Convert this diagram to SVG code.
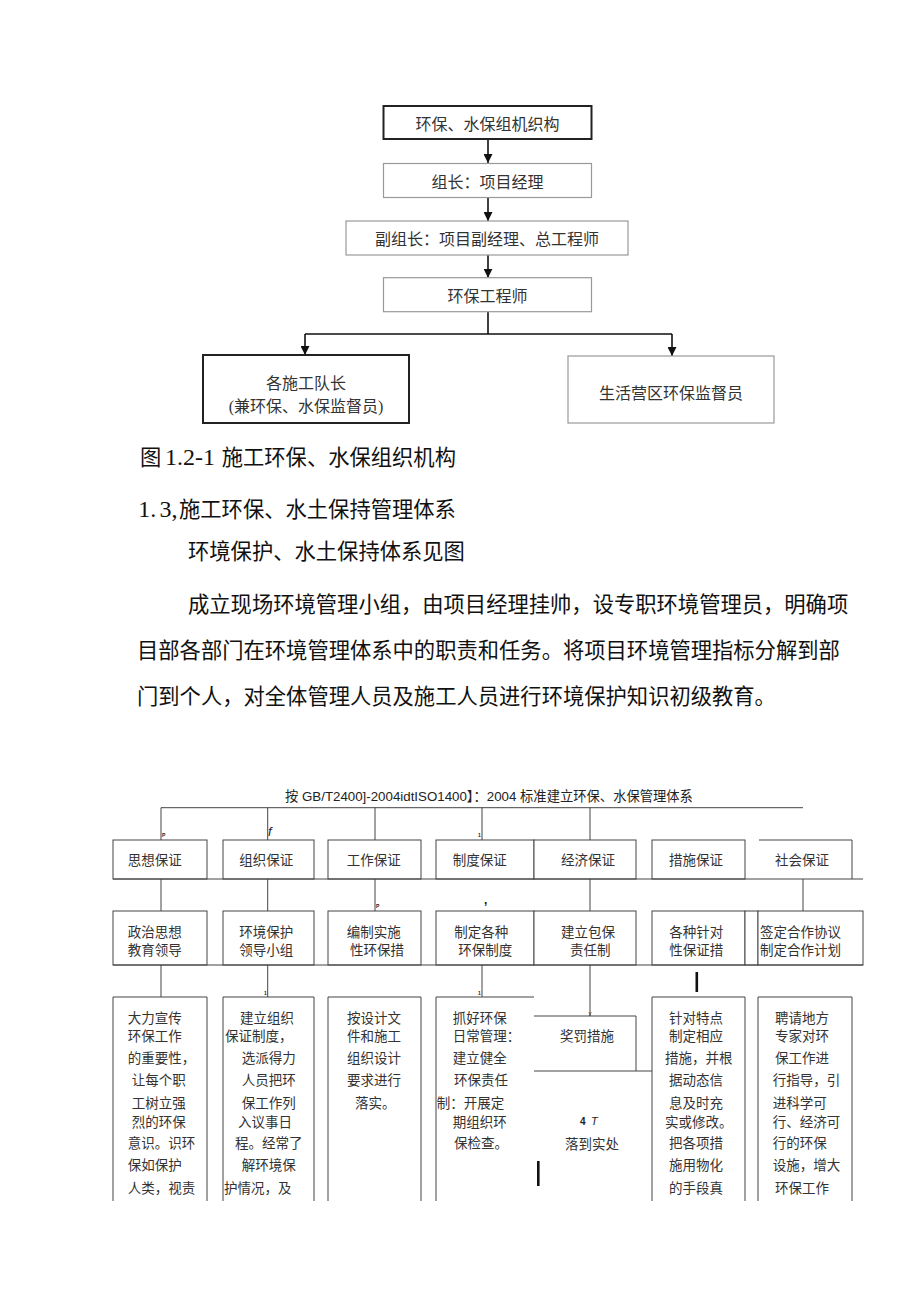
<svg xmlns="http://www.w3.org/2000/svg" width="920" height="1301" viewBox="0 0 920 1301">
<defs>
<marker id="arr" markerWidth="9" markerHeight="9" refX="9" refY="4.5" orient="auto" markerUnits="userSpaceOnUse">
<path d="M0,0 L9,4.5 L0,9 z" fill="#111"/>
</marker>
<style>
.t16{font-family:"Liberation Serif","Noto Sans CJK SC",serif;font-size:16px;fill:#333;text-anchor:middle}
.bx1{fill:#fff;stroke:#222;stroke-width:2}
.bx2{fill:#fff;stroke:#999;stroke-width:1.2}
.con{fill:none;stroke:#111;stroke-width:1.6}
.body{font-family:"Liberation Serif","Noto Sans CJK SC",serif;font-size:21.3px;fill:#111}
.num{font-family:"Liberation Serif",serif;font-size:24px;fill:#111}
.c{font-family:"Liberation Sans","Noto Sans CJK SC",sans-serif;font-size:13.5px;fill:#333}
.hd{font-family:"Liberation Sans","Noto Sans CJK SC",sans-serif;font-size:13.3px;fill:#222}
.cb{fill:#fff;stroke:#444;stroke-width:1}
.cl{fill:none;stroke:#444;stroke-width:1}
.tiny{font-family:"Liberation Sans",sans-serif;font-size:5px;font-weight:bold;fill:#222}
</style>
</defs>
<rect width="920" height="1301" fill="#fff"/>

<!-- Top organisation chart -->
<g id="org-connectors">
<line class="con" x1="488" y1="139" x2="488" y2="163" marker-end="url(#arr)"/>
<line class="con" x1="488" y1="197.5" x2="488" y2="221" marker-end="url(#arr)"/>
<line class="con" x1="488" y1="255" x2="488" y2="277.7" marker-end="url(#arr)"/>
<path class="con" d="M488,311.7 V334 M305,334 H672"/>
<line class="con" x1="305" y1="334" x2="305" y2="355" marker-end="url(#arr)"/>
<line class="con" x1="672" y1="334" x2="672" y2="356" marker-end="url(#arr)"/>
</g>
<g id="org-top">
<rect class="bx1" x="383.5" y="106" width="208" height="33"/>
<text class="t16" x="487.5" y="130">环保、水保组机织构</text>
</g>
<g id="org-leader">
<rect class="bx2" x="383.5" y="163.5" width="208" height="34"/>
<text class="t16" x="487.5" y="188">组长：项目经理</text>
</g>
<g id="org-deputy">
<rect class="bx2" x="346" y="221" width="282" height="34"/>
<text class="t16" x="487" y="245">副组长：项目副经理、总工程师</text>
</g>
<g id="org-engineer">
<rect class="bx2" x="383.5" y="277.7" width="208" height="34"/>
<text class="t16" x="487.5" y="302">环保工程师</text>
</g>
<g id="org-team">
<rect class="bx1" x="203" y="355" width="206" height="68"/>
<text class="t16" x="306" y="389">各施工队长</text>
<text class="t16" x="306" y="412">(兼环保、水保监督员)</text>
</g>
<g id="org-camp">
<rect class="bx2" x="568" y="356" width="206" height="67"/>
<text class="t16" x="671" y="398.7">生活营区环保监督员</text>
</g>

<!-- Body text -->
<g id="body-text">
<text class="body" x="140" y="465">图</text>
<text class="num" x="165" y="465">1.2-1</text>
<text class="body" x="221.7" y="465">施工环保、水保组织机构</text>
<text class="num" x="138.3" y="517">1.</text>
<text class="num" x="159.5" y="517">3,</text>
<text class="body" x="179" y="517">施工环保、水土保持管理体系</text>
<text class="body" x="188" y="559">环境保护、水土保持体系见图</text>
<text class="body" x="188" y="612">成立现场环境管理小组，由项目经理挂帅，设专职环境管理员，明确项</text>
<text class="body" x="137" y="658">目部各部门在环境管理体系中的职责和任务。将项目环境管理指标分解到部</text>
<text class="body" x="137" y="704">门到个人，对全体管理人员及施工人员进行环境保护知识初级教育。</text>
</g>

<!-- Management system chart -->
<g id="sys-title">
<text class="hd" x="285" y="801">按 GB/T2400]-2004idtISO1400】：2004 标准建立环保、水保管理体系</text>
</g>

<g id="sys-connectors">
<path class="cl" d="M161,807.7 H803"/>
<path class="cl" d="M161,807.7 V840 M267.7,807.7 V840 M375,807.7 V840 M482,807.7 V840 M590,807.7 V840"/>
<path class="cl" d="M161,879 V911 M267.7,879 V911 M375,879 V911 M590,879 V911 M803,879 V911"/>
<path class="cl" d="M161,965 V997 M267.7,965 V997 M482,965 V997 M590,965 V1016"/>
<rect x="695.5" y="972" width="2.6" height="20" fill="#111"/>
<rect x="537" y="1161" width="2.6" height="25" fill="#111"/>
<text class="tiny" x="162" y="837">P</text>
<text x="268" y="836" font-family="Liberation Sans,sans-serif" font-size="13" font-style="italic" fill="#222">f</text>
<text class="tiny" x="478" y="837">1</text>
<text x="484" y="904" font-family="Liberation Sans,sans-serif" font-size="12" font-weight="bold" fill="#222">,</text>
<text class="tiny" x="376" y="908">P</text>
<text class="tiny" x="264" y="995">1</text>
<text class="tiny" x="478" y="995">1</text>
<text x="588.5" y="1015" font-family="Liberation Sans,sans-serif" font-size="6" fill="#222">y</text>
</g>

<!-- Row 1 -->
<g id="r1-ideology"><rect class="cb" x="113" y="840" width="94" height="39"/><text class="c" x="127.7" y="865">思想保证</text></g>
<g id="r1-organization"><rect class="cb" x="223" y="840" width="91" height="39"/><text class="c" x="239.3" y="865">组织保证</text></g>
<g id="r1-work"><rect class="cb" x="328" y="840" width="93" height="39"/><text class="c" x="346.7" y="865">工作保证</text></g>
<g id="r1-system"><rect class="cb" x="436" y="840" width="98" height="39"/><text class="c" x="452.7" y="865">制度保证</text></g>
<g id="r1-economy"><rect class="cb" x="534" y="840" width="102" height="39"/><text class="c" x="561" y="865">经济保证</text></g>
<g id="r1-measure"><rect class="cb" x="652" y="840" width="93" height="39"/><text class="c" x="669" y="865">措施保证</text></g>
<g id="r1-society"><path class="cl" d="M759,840 H852 V879"/><text class="c" x="775" y="865">社会保证</text></g>
<path class="cl" d="M113,879 H863"/>

<!-- Row 2 -->
<g id="r2-ideology"><rect class="cb" x="113" y="911" width="94" height="54"/><text class="c" x="127.7" y="937">政治思想</text><text class="c" x="127.7" y="955">教育领导</text></g>
<g id="r2-organization"><rect class="cb" x="223" y="911" width="91" height="54"/><text class="c" x="239.3" y="937">环境保护</text><text class="c" x="239.3" y="955">领导小组</text></g>
<g id="r2-work"><rect class="cb" x="328" y="911" width="93" height="54"/><text class="c" x="346.7" y="937">编制实施</text><text class="c" x="350" y="955">性环保措</text></g>
<g id="r2-system"><rect class="cb" x="436" y="911" width="98" height="54"/><text class="c" x="454.3" y="937">制定各种</text><text class="c" x="458.3" y="955">环保制度</text></g>
<g id="r2-economy"><rect class="cb" x="534" y="911" width="102" height="54"/><text class="c" x="561" y="937">建立包保</text><text class="c" x="570" y="955">责任制</text></g>
<g id="r2-measure"><rect class="cb" x="652" y="911" width="93" height="54"/><text class="c" x="669.3" y="937">各种针对</text><text class="c" x="669.3" y="955">性保证措</text></g>
<g id="r2-strip"><rect class="cb" x="745" y="911" width="13" height="54"/></g>
<g id="r2-society"><rect class="cb" x="758" y="911" width="105" height="54"/><text class="c" x="760" y="937">签定合作协议</text><text class="c" x="760" y="955">制定合作计划</text></g>
<path class="cl" d="M113,965 H863"/>

<!-- Row 3 -->
<g id="r3-ideology">
<path class="cl" d="M113,1201 V997 H207 V1201"/>
<text class="c" x="127.7" y="1023">大力宣传</text>
<text class="c" x="127.7" y="1041">环保工作</text>
<text class="c" x="127.7" y="1063">的重要性，</text>
<text class="c" x="131.7" y="1085">让每个职</text>
<text class="c" x="131.7" y="1108">工树立强</text>
<text class="c" x="131.7" y="1127">烈的环保</text>
<text class="c" x="127.7" y="1148">意识。识环</text>
<text class="c" x="127.7" y="1170">保如保护</text>
<text class="c" x="127.7" y="1193">人类，视责</text>
</g>
<g id="r3-organization">
<path class="cl" d="M223,1201 V997 H314 V1201"/>
<text class="c" x="240" y="1023">建立组织</text>
<text class="c" x="225" y="1041">保证制度，</text>
<text class="c" x="241.7" y="1063">选派得力</text>
<text class="c" x="241.7" y="1085">人员把环</text>
<text class="c" x="241.7" y="1108">保工作列</text>
<text class="c" x="238" y="1127">入议事日</text>
<text class="c" x="235" y="1148">程。经常了</text>
<text class="c" x="241.7" y="1170">解环境保</text>
<text class="c" x="224" y="1193">护情况，及</text>
</g>
<g id="r3-work">
<path class="cl" d="M328,1201 V997 H421 V1201"/>
<text class="c" x="347" y="1023">按设计文</text>
<text class="c" x="347" y="1041">件和施工</text>
<text class="c" x="347" y="1063">组织设计</text>
<text class="c" x="347" y="1085">要求进行</text>
<text class="c" x="355" y="1108">落实。</text>
</g>
<g id="r3-system">
<path class="cl" d="M436,1201 V997 H534"/>
<text class="c" x="452.7" y="1023">抓好环保</text>
<text class="c" x="452.7" y="1041">日常管理：</text>
<text class="c" x="452.7" y="1063">建立健全</text>
<text class="c" x="454" y="1085">环保责任</text>
<text class="c" x="436.7" y="1108">制：开展定</text>
<text class="c" x="452.7" y="1127">期组织环</text>
<text class="c" x="454" y="1148">保检查。</text>
</g>
<g id="r3-reward">
<path class="cl" d="M534,1016 H636 V1071 M534,1071 H652"/>
<text class="c" x="560" y="1041">奖罚措施</text>
</g>
<g id="r3-implement">
<text x="580" y="1124.5" font-family="Liberation Sans,sans-serif" font-size="10" font-weight="bold" fill="#222">4</text>
<text x="591" y="1124.5" font-family="Liberation Sans,sans-serif" font-size="11" font-style="italic" fill="#222">T</text>
<text class="c" x="565" y="1149">落到实处</text>
</g>
<g id="r3-measure">
<path class="cl" d="M652,1201 V997 H745 V1201"/>
<text class="c" x="669" y="1023">针对特点</text>
<text class="c" x="669" y="1041">制定相应</text>
<text class="c" x="665" y="1063">措施，并根</text>
<text class="c" x="669" y="1085">据动态信</text>
<text class="c" x="669" y="1108">息及时充</text>
<text class="c" x="665" y="1127">实或修改。</text>
<text class="c" x="669" y="1148">把各项措</text>
<text class="c" x="669" y="1170">施用物化</text>
<text class="c" x="669" y="1193">的手段真</text>
</g>
<g id="r3-society">
<path class="cl" d="M758,1201 V997 H852 V1201"/>
<text class="c" x="775" y="1023">聘请地方</text>
<text class="c" x="775" y="1041">专家对环</text>
<text class="c" x="775" y="1063">保工作进</text>
<text class="c" x="772.7" y="1085">行指导，引</text>
<text class="c" x="772.7" y="1108">进科学可</text>
<text class="c" x="772.7" y="1127">行、经济可</text>
<text class="c" x="772.7" y="1148">行的环保</text>
<text class="c" x="772.7" y="1170">设施，增大</text>
<text class="c" x="775" y="1193">环保工作</text>
</g>
</svg>
